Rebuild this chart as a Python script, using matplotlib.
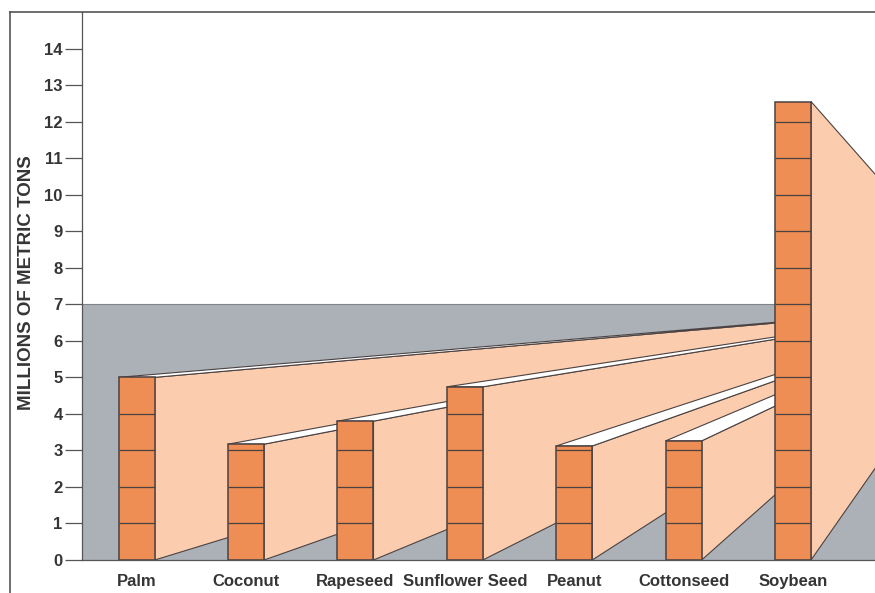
import matplotlib
matplotlib.use('Agg')
import matplotlib.pyplot as plt
from matplotlib.patches import Polygon, Rectangle
from matplotlib.lines import Line2D
import numpy as np

# world vegetable oilseed output, millions of metric tons
crops = ['Palm', 'Coconut', 'Rapeseed', 'Sunflower Seed', 'Peanut', 'Cottonseed', 'Soybean']
output = [5.0, 3.17, 3.8, 4.74, 3.12, 3.26, 12.55]
ytick_vals = list(range(0, 15))

gray = '#acb0b7'
peach = '#fbcdae'
orange = '#ee8d54'
edge = '#4a4242'
textc = '#353535'

horizon = 7      # grey backdrop height / perspective horizon
vp_x = 7.8       # vanishing point, off to the right
bw = 0.33

plt.rcParams['font.family'] = ['Liberation Sans', 'DejaVu Sans']

W, H = 875, 593
fig = plt.figure(figsize=(W / 100, H / 100), dpi=100)
ax = fig.add_axes([82 / W, 33 / H, 1 - 82 / W, (560 - 12) / H])
ax.set_xlim(-0.5, 6.75)
ax.set_ylim(0, 15)

# grey backdrop
ax.add_patch(Rectangle((-0.5, 0), 8, horizon, facecolor=gray, edgecolor='none', zorder=0))
ax.axhline(horizon, color='#80848a', lw=0.8, zorder=0.5)

# bars with walls running back to the vanishing point
for i, v in enumerate(output):
    xl, xr = i - bw / 2, i + bw / 2
    z = 1 + i * 3
    ax.add_patch(Polygon([(xr, 0), (xr, v), (vp_x, horizon)], closed=True,
                         facecolor=peach, edgecolor=edge, lw=0.8, zorder=z))
    if v < horizon:
        ax.add_patch(Polygon([(xl, v), (xr, v), (vp_x, horizon)], closed=True,
                             facecolor='white', edgecolor=edge, lw=0.8, zorder=z + 1))
    ax.bar(i, v, width=bw, color=orange, edgecolor=edge, lw=1.1, zorder=z + 2)
    ax.hlines(np.arange(1, v), xl, xr, color=edge, lw=0.9, zorder=z + 2)

ax.set_yticks(ytick_vals)
ax.set_yticklabels([str(t) for t in ytick_vals], fontsize=12, fontweight='bold', color=textc)
ax.tick_params(axis='y', length=12, width=0.9, color='#555555', pad=2)
ax.set_xticks(range(len(crops)))
ax.set_xticklabels(crops, fontsize=12, fontweight='bold', color=textc)
ax.tick_params(axis='x', length=0, pad=19)
for lab in ax.get_xticklabels():
    lab.set_va('baseline')

for s in ['top', 'right']:
    ax.spines[s].set_visible(False)
ax.spines['left'].set_color('#555555')
ax.spines['left'].set_linewidth(0.9)
ax.spines['bottom'].set_color('#555555')
ax.spines['bottom'].set_linewidth(0.9)
ax.spines['bottom'].set_zorder(30)

fig.text(27 / W, 1 - 283 / H, 'MILLIONS OF METRIC TONS', rotation=90, ha='center', va='center',
         fontsize=13.5, fontweight='bold', color=textc)

# outer frame
fig.add_artist(Line2D([10 / W, 10 / W], [0, 1 - 12 / H], color='#555555', lw=1.2))
fig.add_artist(Line2D([10 / W, 1], [1 - 12 / H, 1 - 12 / H], color='#555555', lw=1.2))

fig.savefig('out.png', dpi=100, facecolor='white')
